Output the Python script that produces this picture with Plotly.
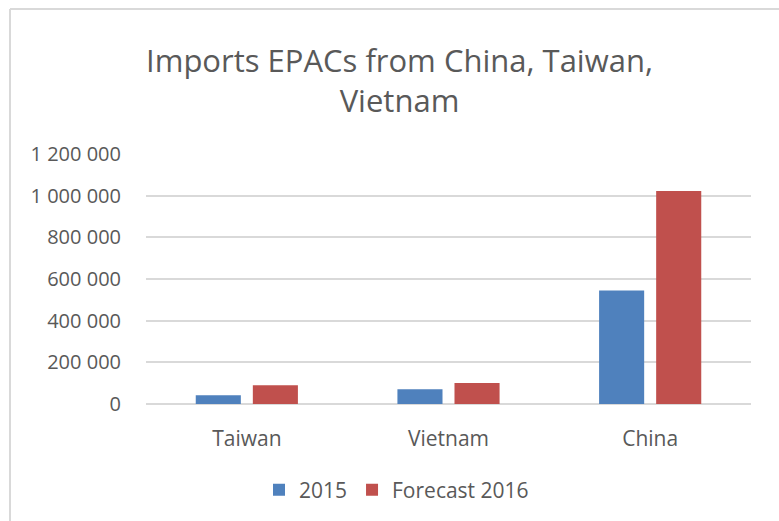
import plotly.graph_objects as go

# Import volumes of EPACs by origin country
countries = ["Taiwan", "Vietnam", "China"]
imports_2015 = [42000, 71000, 545000]
forecast_2016 = [90000, 101000, 1023000]
series_names = ["2015", "Forecast 2016"]
series_colors = ["#4F81BD", "#C0504D"]

W, H = 779, 521
plot_left, plot_right, plot_top, plot_bottom = 146, 751, 154, 404
text_color = "#595959"
grid_color = "#D9D9D9"
font_family = "Open Sans, Lato, sans-serif"

fig = go.Figure()
for name, vals, color in zip(series_names, [imports_2015, forecast_2016], series_colors):
    fig.add_trace(go.Bar(x=countries, y=vals, name=name, marker_color=color,
                         marker_line_width=0))

# outer chart frame (top and left edges), given in plot-area paper units
pw = plot_right - plot_left
ph = plot_bottom - plot_top
def px_to_paper_x(px):
    return (px - plot_left) / pw
def px_to_paper_y(py):
    return (plot_bottom - py) / ph

frame_left, frame_top = 10, 9
fig.add_shape(type="line", xref="paper", yref="paper",
              x0=px_to_paper_x(frame_left), x1=px_to_paper_x(W + 5),
              y0=px_to_paper_y(frame_top), y1=px_to_paper_y(frame_top),
              line=dict(color=grid_color, width=2))
fig.add_shape(type="line", xref="paper", yref="paper",
              x0=px_to_paper_x(frame_left), x1=px_to_paper_x(frame_left),
              y0=px_to_paper_y(frame_top), y1=px_to_paper_y(H + 5),
              line=dict(color=grid_color, width=2))

fig.update_layout(
    width=W, height=H,
    margin=dict(l=plot_left, r=W - plot_right, t=plot_top, b=H - plot_bottom, pad=0),
    paper_bgcolor="white", plot_bgcolor="white",
    separators=". ",
    font=dict(family=font_family, color=text_color, size=21),
    title=dict(text="Imports EPACs from China, Taiwan,<br>Vietnam",
               xref="container", yref="container",
               x=399.5 / W, xanchor="center",
               y=1 - 72 / H, yanchor="top",
               font=dict(size=31, color=text_color, family=font_family)),
    barmode="group", bargap=0.434, bargroupgap=0.21,
    showlegend=True,
    legend=dict(orientation="h", x=0.5 + 7 / W, xref="container", xanchor="center",
                y=1 - 490 / H, yref="container", yanchor="middle",
                font=dict(size=21, color=text_color), itemwidth=30),
)
fig.update_yaxes(range=[0, 1200000], dtick=200000, tickformat=",d",
                 showgrid=True, gridcolor=grid_color, gridwidth=1.5,
                 zeroline=True, zerolinecolor=grid_color, zerolinewidth=1.5,
                 showline=False, ticks="", ticklabelstandoff=24,
                 tickfont=dict(size=20, color=text_color))
fig.update_xaxes(showgrid=False, showline=False, ticks="", ticklabelstandoff=20,
                 tickfont=dict(size=21, color=text_color))

fig.write_html("out.html")
